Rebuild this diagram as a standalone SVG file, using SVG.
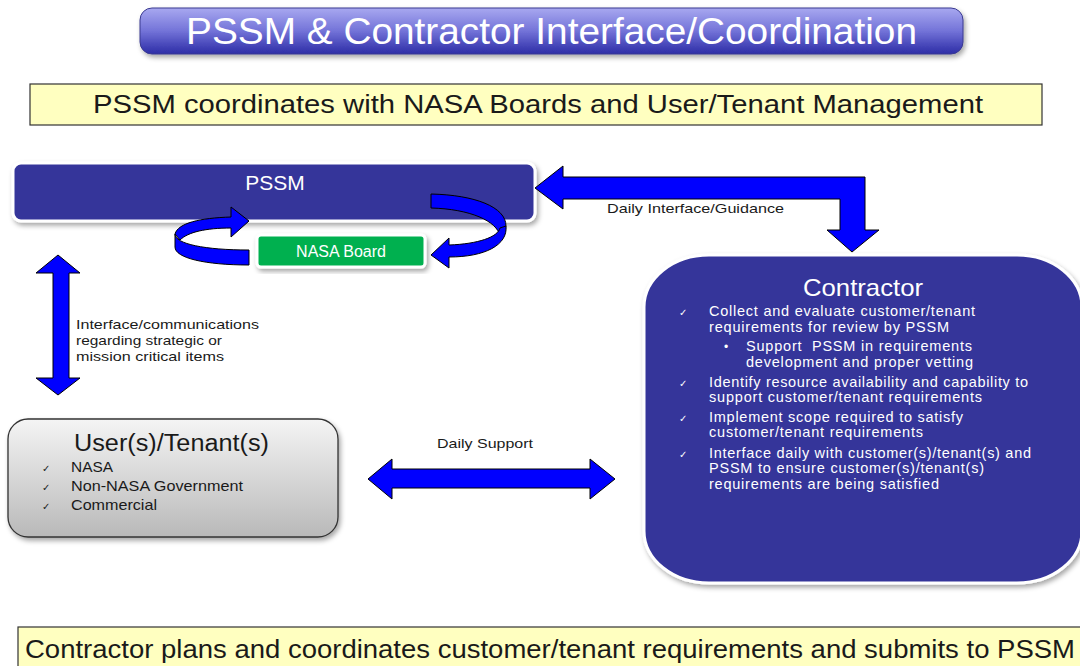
<svg xmlns="http://www.w3.org/2000/svg" width="1080" height="666" viewBox="0 0 1080 666">
<defs>
<linearGradient id="gTitle" x1="0" y1="0" x2="0" y2="1">
<stop offset="0" stop-color="#a8a8f0"/>
<stop offset="0.5" stop-color="#7373d8"/>
<stop offset="1" stop-color="#2c2ca6"/>
</linearGradient>
<linearGradient id="gUser" x1="0" y1="0" x2="0" y2="1">
<stop offset="0" stop-color="#f4f4f4"/>
<stop offset="1" stop-color="#b9b9b9"/>
</linearGradient>
<filter id="sh" x="-10%" y="-10%" width="120%" height="130%">
<feDropShadow dx="2" dy="3" stdDeviation="2.5" flood-color="#000" flood-opacity="0.35"/>
</filter>
</defs>
<style>
text{font-family:"Liberation Sans",Arial,sans-serif;}
.w{fill:#fff;}
.k{fill:#1a1a1a;}
.blue{fill:#35359a;stroke:#fff;stroke-width:3;}
.arr{fill:#0000ff;stroke:#000;stroke-width:1;stroke-linejoin:miter;}
.yel{fill:#ffffc0;stroke:#333;stroke-width:1.2;}
.ck{font-family:"DejaVu Sans",sans-serif;font-size:10px;}
.b{font-size:14.5px;}
.lbl{font-size:13.5px;fill:#1a1a1a;}
</style>
<rect width="1080" height="666" fill="#fff"/>

<g id="title">
<rect x="140" y="8" width="823" height="46" rx="12" fill="url(#gTitle)" stroke="#3a3a90" stroke-width="1" filter="url(#sh)"/>
<text x="551.5" y="44" font-size="37" text-anchor="middle" class="w" textLength="731" lengthAdjust="spacingAndGlyphs">PSSM &amp; Contractor Interface/Coordination</text>
</g>

<g id="banner-top">
<rect x="30" y="84" width="1012" height="41" class="yel"/>
<text x="538" y="113" font-size="25" text-anchor="middle" class="k" textLength="890" lengthAdjust="spacingAndGlyphs">PSSM coordinates with NASA Boards and User/Tenant Management</text>
</g>

<g id="pssm">
<rect x="13" y="163" width="522" height="58" rx="8" class="blue" filter="url(#sh)"/>
<text x="275" y="190" font-size="21" text-anchor="middle" class="w">PSSM</text>
</g>

<g id="nasa-board">
<rect x="257" y="235" width="168" height="32" rx="4" fill="#00b050" stroke="#fff" stroke-width="3" filter="url(#sh)"/>
<text x="341" y="257" font-size="16" text-anchor="middle" class="w">NASA Board</text>
</g>

<g id="connectors">
<path class="arr" d="M175,234 C178,223 200,218 231,217 L231,207 L249,221 L231,237 L231,228 C206,228 188,232 180,240 Z"/>
<path class="arr" d="M175,234 C175,244 205,250 249,250 L249,265 C205,265 175,258 175,247 Z"/>
<path class="arr" d="M431,194 C475,195 506,207 506,226 L500,236 C497,221 470,209 431,208 Z"/>
<path class="arr" d="M449,245 C478,244 498,237 500,228 L506,226 C508,245 485,257 449,257 L449,268 L431,255 L449,238 Z"/>
<path class="arr" d="M535,188 L563,166 L563,177 L865,177 L865,230 L879,230 L852,252 L827,230 L840,230 L840,199 L563,199 L563,209 Z"/>
<path class="arr" d="M58,255 L80,273 L69,273 L69,378 L80,378 L58,395 L36,378 L53,378 L53,273 L36,273 Z"/>
<path class="arr" d="M368,479 L392,459 L392,469 L590,469 L590,459 L615,479 L590,499 L590,488 L392,488 L392,499 Z"/>
<text x="607" y="213" class="lbl" textLength="177" lengthAdjust="spacingAndGlyphs">Daily Interface/Guidance</text>
<text x="437" y="448" class="lbl" textLength="96" lengthAdjust="spacingAndGlyphs">Daily Support</text>
<text x="76" y="329" class="lbl" textLength="183" lengthAdjust="spacingAndGlyphs">Interface/communications</text>
<text x="76" y="345" class="lbl" textLength="146" lengthAdjust="spacingAndGlyphs">regarding strategic or</text>
<text x="76" y="361" class="lbl" textLength="148" lengthAdjust="spacingAndGlyphs">mission critical items</text>
</g>

<g id="users">
<rect x="8" y="419" width="330" height="118" rx="20" fill="url(#gUser)" stroke="#333" stroke-width="1.3" filter="url(#sh)"/>
<text x="74" y="451" font-size="23" class="k" textLength="195" lengthAdjust="spacingAndGlyphs">User(s)/Tenant(s)</text>
<text x="42" y="472" class="ck k">✓</text>
<text x="71" y="472" class="b k" textLength="42" lengthAdjust="spacingAndGlyphs">NASA</text>
<text x="42" y="491" class="ck k">✓</text>
<text x="71" y="491" class="b k" textLength="172" lengthAdjust="spacingAndGlyphs">Non-NASA Government</text>
<text x="42" y="510" class="ck k">✓</text>
<text x="71" y="510" class="b k" textLength="86" lengthAdjust="spacingAndGlyphs">Commercial</text>
</g>

<g id="contractor">
<rect x="644" y="255" width="438" height="328" rx="65" ry="52" class="blue" filter="url(#sh)"/>
<text x="863" y="296" font-size="24" text-anchor="middle" class="w" textLength="120" lengthAdjust="spacingAndGlyphs">Contractor</text>
<text x="679" y="316" class="ck w">✓</text>
<text x="709" y="316" class="b w" textLength="266" lengthAdjust="spacing">Collect and evaluate customer/tenant</text>
<text x="709" y="332" class="b w" textLength="240" lengthAdjust="spacing">requirements for review by PSSM</text>
<text x="724" y="351" class="w" font-size="12">•</text>
<text x="746" y="351" class="b w" textLength="226" lengthAdjust="spacing" xml:space="preserve">Support  PSSM in requirements</text>
<text x="746" y="367" class="b w" textLength="227" lengthAdjust="spacing">development and proper vetting</text>
<text x="679" y="387" class="ck w">✓</text>
<text x="709" y="387" class="b w" textLength="319" lengthAdjust="spacing">Identify resource availability and capability to</text>
<text x="709" y="402" class="b w" textLength="273" lengthAdjust="spacing">support customer/tenant requirements</text>
<text x="679" y="422" class="ck w">✓</text>
<text x="709" y="422" class="b w" textLength="254" lengthAdjust="spacing">Implement scope required to satisfy</text>
<text x="709" y="437" class="b w" textLength="214" lengthAdjust="spacing">customer/tenant requirements</text>
<text x="679" y="458" class="ck w">✓</text>
<text x="709" y="458" class="b w" textLength="322" lengthAdjust="spacing">Interface daily with customer(s)/tenant(s) and</text>
<text x="709" y="473" class="b w" textLength="275" lengthAdjust="spacing">PSSM to ensure customer(s)/tenant(s)</text>
<text x="709" y="489" class="b w" textLength="230" lengthAdjust="spacing">requirements are being satisfied</text>
</g>

<g id="banner-bottom">
<rect x="18" y="627" width="1070" height="45" class="yel"/>
<text x="25" y="658" font-size="25" class="k" textLength="1050" lengthAdjust="spacingAndGlyphs">Contractor plans and coordinates customer/tenant requirements and submits to PSSM</text>
</g>
</svg>
